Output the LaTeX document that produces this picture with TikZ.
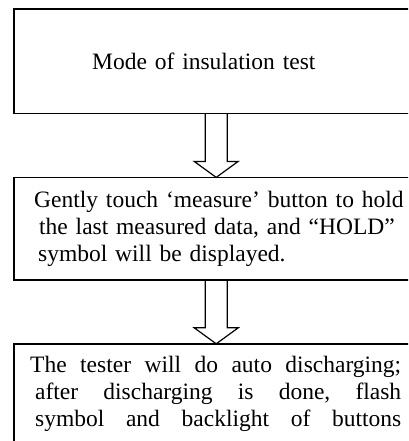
\documentclass[tikz,border=0pt]{standalone}
\usepackage{fontspec}
\setmainfont{Liberation Serif}
\usepackage{tikz}
\usetikzlibrary{positioning,calc}

\begin{document}
\begin{tikzpicture}[
  x=1pt, y=1pt,
  stepbox/.style={rectangle, text width=380pt, inner xsep=12pt, align=left, font=\fontsize{23.5}{27}\selectfont},
  boxline/.style={line width=1.5pt, line join=miter},
  hollow/.style={draw, line width=1.2pt, line join=miter},
  node distance=64pt
]

\useasboundingbox (0,0) rectangle (408,-441);
\clip (0,0) rectangle (408,-441);

\node[stepbox, anchor=north west, minimum height=104pt] (mode) at (14,-9) {\hspace*{66pt}Mode of insulation test};

\node[stepbox, below=of mode, minimum height=102pt] (hold) {\hspace*{8pt}Gently touch ‘measure’ button to hold\\ \hspace*{13pt}the last measured data, and “HOLD”\\ \hspace*{12pt}symbol will be displayed.};

\node[stepbox, below=of hold, inner ysep=12pt, text depth=100pt] (disch) {\hspace*{4pt}\makebox[371pt][l]{The\hfill tester\hfill will\hfill do\hfill auto\hfill discharging;}\\ \hspace*{9pt}\makebox[366pt][l]{after\hfill discharging\hfill is\hfill done,\hfill flash}\\ \hspace*{9pt}\makebox[366pt][l]{symbol\hfill and\hfill backlight\hfill of\hfill buttons}};

% box outlines run off the right and bottom edges
\foreach \n in {mode, hold}
  \draw[boxline] (\n.north east) -- (\n.north west) -- (\n.south west) -- (\n.south east);
\draw[boxline] (disch.north east) -- (disch.north west) -- (disch.south west);

\foreach \a/\b in {mode/hold, hold/disch}
  \draw[hollow] ($(\a.south)+(-11,0)$) -- ($(\b.north)+(-11,16)$) -- ($(\b.north)+(-22,16)$) -- (\b.north) -- ($(\b.north)+(22,16)$) -- ($(\b.north)+(11,16)$) -- ($(\a.south)+(11,0)$);

\end{tikzpicture}
\end{document}
